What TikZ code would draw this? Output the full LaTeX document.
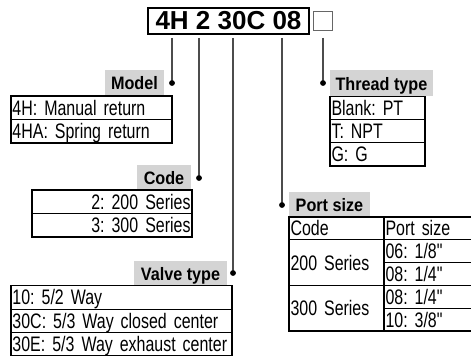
\documentclass[tikz,border=0pt]{standalone}
\usepackage{fontspec}
\setmainfont[FakeStretch=0.76, Ligatures=TeXOff]{Liberation Sans}
\newfontfamily\headfont[FakeStretch=0.9]{Liberation Sans}
\newfontfamily\codefont{Liberation Sans}
\usetikzlibrary{shapes}
\newcommand{\cellfont}{\fontsize{21}{24}\selectfont\frenchspacing\spaceskip=3.6pt\relax\hyphenpenalty=10000\relax}

\tikzstyle{codebox} = [rectangle, draw=black, line width=1.3pt, minimum width=161pt, minimum height=26pt, inner sep=0pt, text height=18pt, text depth=0pt, font=\codefont\bfseries\fontsize{26}{28}\selectfont]
\tikzstyle{blank} = [rectangle, draw=black!60, line width=1pt, minimum size=19pt, inner sep=0pt]
\tikzstyle{heading} = [rectangle, fill=black!17, minimum height=25pt, inner sep=0pt, text height=15pt, text depth=0pt, font=\headfont\bfseries\fontsize{18}{20}\selectfont]
\tikzstyle{cell} = [rectangle, draw=black, line width=1.1pt, minimum height=23.5pt, inner xsep=1.5pt, inner ysep=0pt, outer sep=0pt, text height=16pt, text depth=1pt, align=left, font=\cellfont]
\tikzstyle{dot} = [circle, fill=black, minimum size=5.5pt, inner sep=0pt]
\tikzstyle{lead} = [draw=black!70, line width=1.2pt]

\begin{document}
\begin{tikzpicture}[x=1pt, y=1pt, node distance=23.5pt]

\useasboundingbox (0,0) rectangle (471,356);

% Order code
\node (code) [codebox] at (228.5,335) {4H 2 30C 08};
\node (sq) [blank] at (322.5,334.5) {};

% Lead tops and dots
\coordinate (tModel) at (172,318);
\coordinate (tCode) at (199,318);
\coordinate (tValve) at (233,318);
\coordinate (tPort) at (282,318);
\coordinate (tThread) at (323,318);
\node (dModel) [dot] at (172,273) {};
\node (dCode) [dot] at (199,178) {};
\node (dValve) [dot] at (233,83) {};
\node (dPort) [dot] at (282,151) {};
\node (dThread) [dot] at (323,273) {};

% Model
\node (hModel) [heading, minimum width=59pt] at (134.5,273.5) {Model};
\node (m1) [cell, text width=158pt] at (91.5,248.25) {4H: Manual return};
\node (m2) [cell, text width=158pt, below of=m1] {4HA: Spring return};

% Code
\node (hCode) [heading, minimum width=54pt, minimum height=24pt] at (164,179) {Code};
\node (c1) [cell, text width=157pt, align=right] at (112,154.25) {2: 200 Series};
\node (c2) [cell, text width=157pt, align=right, below of=c1] {3: 300 Series};

% Valve type
\node (hValve) [heading, minimum width=93pt, minimum height=24pt] at (180.5,83) {Valve type};
\node (v1) [cell, text width=218pt, minimum height=23.2pt] at (121.5,58.5) {10: 5/2 Way};
\node (v2) [cell, text width=218pt, minimum height=23.2pt, below of=v1, node distance=23.2pt] {\mbox{30C: 5/3 Way closed center}};
\node (v3) [cell, text width=218pt, minimum height=23.2pt, below of=v2, node distance=23.2pt] {\mbox{30E: 5/3 Way exhaust center}};

% Thread type
\node (hThread) [heading, minimum width=103pt, minimum height=26pt] at (381.5,273) {Thread type};
\node (th1) [cell, text width=92pt, minimum height=23.3pt] at (377.5,248.25) {Blank: PT};
\node (th2) [cell, text width=92pt, minimum height=23.3pt, below of=th1, node distance=23.3pt] {T: NPT};
\node (th3) [cell, text width=92pt, minimum height=23.3pt, below of=th2, node distance=23.3pt] {G: G};

% Port size
\node (hPort) [heading, minimum width=81pt] at (329.5,151.5) {Port size};
\node (pCode) [cell, text width=92pt, minimum height=22.8pt] at (336.5,127.6) {Code};
\node (p200) [cell, text width=92pt, minimum height=45.6pt, below of=pCode, node distance=34.2pt] {200 Series};
\node (p300) [cell, text width=92pt, minimum height=45.6pt, below of=p200, node distance=45.6pt] {300 Series};
\node (pSize) [cell, text width=89pt, minimum height=22.8pt] at (430,127.6) {Port size};
\node (q1) [cell, text width=89pt, minimum height=22.8pt, below of=pSize, node distance=22.8pt] {06: 1/8"};
\node (q2) [cell, text width=89pt, minimum height=22.8pt, below of=q1, node distance=22.8pt] {08: 1/4"};
\node (q3) [cell, text width=89pt, minimum height=22.8pt, below of=q2, node distance=22.8pt] {08: 1/4"};
\node (q4) [cell, text width=89pt, minimum height=22.8pt, below of=q3, node distance=22.8pt] {10: 3/8"};

% Leads
\draw [lead] (tModel) -- (dModel.center);
\draw [lead] (tCode) -- (dCode.center);
\draw [lead] (tValve) -- (dValve.center);
\draw [lead] (tPort) -- (dPort.center);
\draw [lead] (tThread) -- (dThread.center);
\node [dot] at (dModel) {};
\node [dot] at (dCode) {};
\node [dot] at (dValve) {};
\node [dot] at (dPort) {};
\node [dot] at (dThread) {};

\end{tikzpicture}
\end{document}
